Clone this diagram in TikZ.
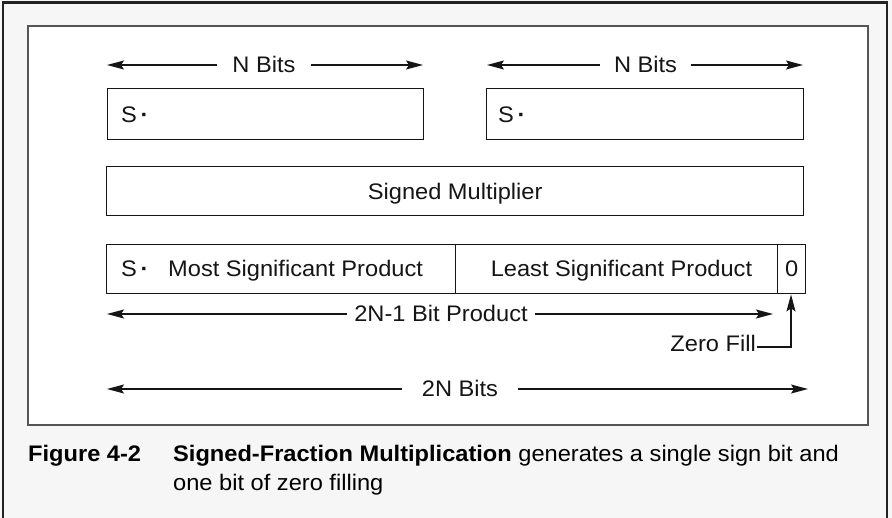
\documentclass[tikz,border=0pt]{standalone}
\usepackage{fontspec}
\setmainfont{Liberation Sans}[FakeStretch=1.05]
\usetikzlibrary{arrows.meta}
\definecolor{pagebg}{HTML}{F6F6F6}
\definecolor{ink}{HTML}{151515}
\definecolor{frame}{HTML}{222222}
\definecolor{innerframe}{HTML}{555555}
\newcommand{\sdot}{S\,\textbf{·}}
\begin{document}
\begin{tikzpicture}[x=1pt,y=-1pt,
  cell/.style={draw=ink, line width=1.4pt, fill=white, inner sep=0pt},
  lbl/.style={font=\fontsize{22.5}{27}\selectfont, text=ink, inner ysep=0pt, inner xsep=0pt, text height=16pt, text depth=0pt},
  captxt/.style={font=\fontsize{22.5}{27}\selectfont, text=black, inner sep=0pt, anchor=base west},
  tipped/.style={-{Stealth[length=17pt,width=9pt,inset=3pt]}},
  dim/.style={draw=ink, line width=1.2pt, tipped},
]
\useasboundingbox (0,0) rectangle (892,518);
\fill[pagebg] (0,0) rectangle (892,518);
\clip (0,0) rectangle (892,518);
\draw[frame, line width=2.6pt] (3,530) -- (3,2.5) -- (887,2.5) -- (887,530);
\draw[innerframe, line width=1.4pt, fill=white] (28,26) rectangle (868,425);

% top N-bit words
\node[cell, anchor=north west, minimum width=316pt, minimum height=51pt] (w1) at (107,88) {};
\node[cell, anchor=north west, minimum width=317pt, minimum height=51pt] (w2) at (486,88) {};
\node[lbl, anchor=west] (s1) at (121,115) {\sdot};
\node[lbl, anchor=west] (s2) at (498,115) {\sdot};

% N Bits dimension arrows
\node[lbl, inner xsep=15.5pt] (nb1) at (264,65) {N Bits};
\coordinate (nb1l) at (107,65);
\coordinate (nb1r) at (423,65);
\draw[dim] (nb1) -- (nb1l);
\draw[dim] (nb1) -- (nb1r);
\node[lbl, inner xsep=14pt] (nb2) at (645.5,65) {N Bits};
\coordinate (nb2l) at (487,65);
\coordinate (nb2r) at (803,65);
\draw[dim] (nb2) -- (nb2l);
\draw[dim] (nb2) -- (nb2r);

% signed multiplier
\node[cell, anchor=north west, minimum width=697pt, minimum height=49pt] (mul) at (106,166) {};
\node[lbl] (multxt) at (mul.center) {Signed Multiplier};

% product row
\node[cell, anchor=north west, minimum width=349pt, minimum height=49pt] (msp) at (106,244) {};
\node[cell, anchor=north west, minimum width=322pt, minimum height=49pt] (lsp) at (455,244) {};
\node[cell, anchor=north west, minimum width=28pt, minimum height=49pt] (zero) at (777,244) {};
\node[lbl, anchor=west] (s3) at (121,269) {\sdot};
\node[lbl, anchor=west] (msptxt) at (168,269) {Most Significant Product};
\node[lbl] (lsptxt) at (621.5,269) {Least Significant Product};
\node[lbl] (zerotxt) at (zero.center |- lsptxt) {0};

% 2N-1 bit product
\node[lbl, inner xsep=7.5pt] (p2n1) at (441,314) {2N-1 Bit Product};
\coordinate (p2n1l) at (107,314);
\coordinate (p2n1r) at (773,314);
\draw[dim] (p2n1) -- (p2n1l);
\draw[dim] (p2n1) -- (p2n1r);

% zero fill
\node[lbl, anchor=east, inner xsep=1pt] (zf) at (757,344) {Zero Fill};
\coordinate (zfc) at (791,347);
\draw[dim] (zf.east |- zfc) -- (zfc) -- (zfc |- zero.south);

% 2N bits
\node[lbl, inner xsep=20pt] (b2n) at (460,389) {2N Bits};
\coordinate (b2nl) at (107,389);
\coordinate (b2nr) at (808,389);
\draw[dim] (b2n) -- (b2nl);
\draw[dim] (b2n) -- (b2nr);

% caption
\node[captxt] (fignum) at (28,462) {\bfseries Figure 4-2};
\node[captxt] (figtitle) at (173,462) {\textbf{Signed-Fraction Multiplication} generates a single sign bit and};
\node[captxt] (figtitle2) at (173,490) {one bit of zero filling};
\end{tikzpicture}
\end{document}
